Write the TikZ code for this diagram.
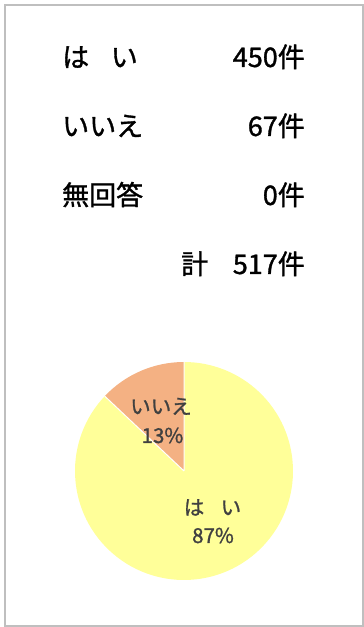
\documentclass[tikz,border=0pt]{standalone}
\usepackage{fontspec}
\setmainfont{Noto Sans CJK JP}[FakeBold=1.2]
\usepackage{tikz}
\usetikzlibrary{positioning,calc}
\definecolor{framegray}{HTML}{BFBFBF}
\definecolor{yesyellow}{HTML}{FFFF99}
\definecolor{noorange}{HTML}{F4B183}
\definecolor{labelgray}{HTML}{404040}

\begin{document}
\begin{tikzpicture}[x=1pt,y=1pt,
    item/.style={anchor=base west, inner sep=0pt, font=\fontsize{27}{27}\selectfont},
    count/.style={anchor=base east, inner sep=0pt, font=\fontsize{27}{27}\selectfont},
    pielabel/.style={anchor=base, inner sep=0pt, text=labelgray, font=\fontsize{20.5}{20.5}\selectfont}]
    \useasboundingbox (0,0) rectangle (364,627);
    % Frame
    \draw[framegray, line width=2pt] (5,1) rectangle (363,622);

    % Answers and counts
    \node[item] (yes) at (62,560) {は\hspace{0.8em}い};
    \node[count] (yesN) at (305,560) {450件};
    \node[item] (no) at (62,491) {いいえ};
    \node[count] (noN) at (305,491) {67件};
    \node[item] (blank) at (62,422) {無回答};
    \node[count] (blankN) at (305,422) {0件};
    \node[count] (total) at (305,353) {517件};
    \node[item] (totalL) at (181,353) {計};

    % Pie chart
    \coordinate (pc) at (184,156);
    \fill[yesyellow] (pc) -- ++(136.65:109) arc[start angle=136.65, end angle=450, radius=109] -- cycle;
    \fill[noorange] (pc) -- ++(90:109) arc[start angle=90, end angle=136.65, radius=109] -- cycle;
    \draw[white, line width=1pt] (pc) -- ++(90:109) (pc) -- ++(136.65:109);
    \node[pielabel] (noL) at (161,213) {いいえ};
    \node[pielabel] (noP) at (162.5,184) {13\%};
    \node[pielabel] (yesL) at (212.5,112) {は\hspace{0.8em}い};
    \node[pielabel] (yesP) at (213,84) {87\%};
\end{tikzpicture}
\end{document}
